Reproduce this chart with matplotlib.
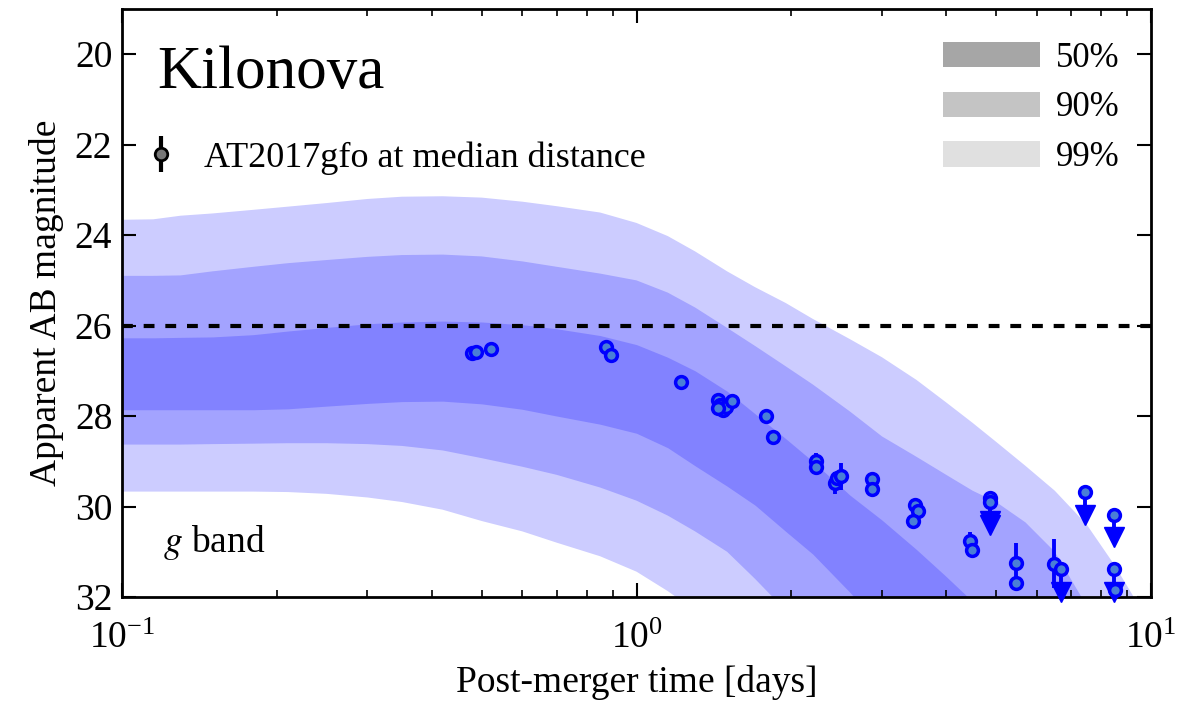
import numpy as np
import matplotlib
matplotlib.use("Agg")
import matplotlib.pyplot as plt
from matplotlib.patches import Patch

plt.rcParams['font.family'] = ['Liberation Serif', 'DejaVu Serif']
plt.rcParams['mathtext.fontset'] = 'stix'

# ---- band data (apparent AB magnitude credible intervals) ----
t_grid = [0.1, 0.115, 0.13, 0.15, 0.18, 0.21, 0.25, 0.3, 0.35, 0.42, 0.5, 0.6, 0.7, 0.85,
          1.0, 1.15, 1.3, 1.5, 1.7, 1.95, 2.2, 2.6, 3.0, 3.5, 4.0, 4.5, 5.0, 5.7, 6.5,
          7.5, 8.5, 9.2, 10.0]
u99 = [23.66, 23.65, 23.57, 23.52, 23.44, 23.37, 23.29, 23.2, 23.15, 23.14, 23.17, 23.26, 23.36, 23.5,
       23.73, 24.02, 24.36, 24.8, 25.15, 25.5, 25.85, 26.3, 26.7, 27.2, 27.7, 28.15, 28.57, 29.1, 29.65,
       30.4, 31.3, 31.95, 32.8]
u90 = [24.9, 24.9, 24.89, 24.8, 24.7, 24.62, 24.55, 24.48, 24.44, 24.43, 24.47, 24.58, 24.7, 24.85,
       25.0, 25.27, 25.6, 26.05, 26.45, 26.9, 27.3, 27.9, 28.45, 28.9, 29.3, 29.65, 29.9, 30.35, 31.0,
       32.2, 33.5, 34.2, 35.0]
u50 = [26.27, 26.27, 26.26, 26.25, 26.2, 26.12, 26.04, 25.96, 25.92, 25.9, 25.92, 25.98, 26.07, 26.22,
       26.42, 26.7, 27.0, 27.45, 27.95, 28.5, 29.0, 29.75, 30.3, 30.95, 31.55, 32.1, 32.6, 33.3, 34.0,
       35.0, 36.0, 36.5, 37.0]
l50 = [27.86, 27.86, 27.86, 27.86, 27.86, 27.84, 27.78, 27.72, 27.68, 27.67, 27.73, 27.85, 28.0, 28.18,
       28.38, 28.7, 29.1, 29.55, 29.97, 30.55, 31.05, 31.9, 32.7, 33.5, 34.2, 34.8, 35.3, 36.0, 36.6,
       37.2, 37.8, 38.2, 38.6]
l90 = [28.63, 28.63, 28.63, 28.62, 28.61, 28.6, 28.6, 28.62, 28.66, 28.76, 28.93, 29.12, 29.3, 29.58,
       29.87, 30.2, 30.55, 31.0, 31.6, 32.3, 33.0, 33.8, 34.5, 35.2, 35.8, 36.3, 36.8, 37.4, 38.0,
       38.6, 39.2, 39.6, 40.0]
l99 = [29.67, 29.67, 29.67, 29.67, 29.67, 29.68, 29.72, 29.8, 29.9, 30.07, 30.32, 30.55, 30.8, 31.1,
       31.44, 31.87, 32.3, 32.9, 33.5, 34.1, 34.7, 35.4, 36.0, 36.6, 37.2, 37.7, 38.2, 38.8, 39.4,
       40.0, 40.6, 41.0, 41.4]

# ---- AT2017gfo g-band detections ----
det_t = [0.478, 0.487, 0.522, 0.874, 0.894, 1.218, 1.443, 1.453, 1.47, 1.49, 1.53, 1.44,
         1.785, 1.84, 2.233, 2.233, 2.43, 2.45, 2.494, 2.866, 2.866, 3.48, 3.52, 3.44,
         4.45, 4.49, 5.47, 5.47, 6.47, 8.5]
det_mag = [26.60, 26.58, 26.52, 26.47, 26.66, 27.24, 27.64, 27.75, 27.86, 27.80, 27.67, 27.83,
           28.0, 28.47, 29.0, 29.12, 29.48, 29.37, 29.33, 29.39, 29.62, 29.96, 30.09, 30.33,
           30.77, 30.97, 31.25, 31.69, 31.26, 31.84]
det_err = [0.03, 0.03, 0.03, 0.03, 0.03, 0.03, 0.03, 0.03, 0.03, 0.03, 0.03, 0.03,
           0.03, 0.1, 0.18, 0.1, 0.25, 0.1, 0.3, 0.05, 0.05, 0.05, 0.05, 0.08,
           0.2, 0.05, 0.45, 0.05, 0.55, 0.05]

# ---- upper limits ----
ul_t = [4.87, 4.87, 6.67, 7.45, 8.46, 8.46]
ul_mag = [29.82, 29.9, 31.38, 29.68, 30.18, 31.38]

threshold_mag = 26.0
band_labels = ['50%', '90%', '99%']
legend_greys = ['#a6a6a6', '#c4c4c4', '#e0e0e0']

fig = plt.figure(figsize=(12.03, 7.03), dpi=100)
ax = fig.add_axes([0.1014, 0.1508, 0.8554, 0.8364])

for lo, hi in [(u99, l99), (u90, l90), (u50, l50)]:
    ax.fill_between(t_grid, lo, hi, color='blue', alpha=0.2, lw=0)

ax.axhline(threshold_mag, color='black', lw=3, ls=(0, (2.6, 2.6)), zorder=3)

blue = '#0000ff'
face = '#4a7fd6'
ax.errorbar(det_t, det_mag, yerr=det_err, fmt='o', ms=8.5, mfc=face, mec=blue, mew=2.5,
            ecolor=blue, elinewidth=2.8, capsize=0, zorder=5)

arrow_len = 0.5
for t, m in zip(ul_t, ul_mag):
    ax.plot([t, t], [m, m + arrow_len], color=blue, lw=2.8, zorder=5)
    ax.plot([t], [m + arrow_len], marker='v', ms=15, color=blue, mec=blue, zorder=5, clip_on=False)
ax.plot(ul_t, ul_mag, 'o', ms=8.5, mfc=face, mec=blue, mew=2.5, ls='none', zorder=6)

ax.set_xscale('log')
ax.set_xlim(0.1, 10)
ax.set_ylim(32, 19)
ax.set_yticks([20, 22, 24, 26, 28, 30, 32])

ax.tick_params(which='both', direction='in', top=True, right=True, labelsize=27)
ax.tick_params(which='major', length=10, width=1.5, pad=7)
ax.tick_params(which='minor', length=5, width=1.2)
ax.tick_params(axis='x', which='major', pad=18)
for s in ax.spines.values():
    s.set_linewidth(2)

ax.set_xlabel('Post-merger time [days]', fontsize=27, labelpad=6)
ax.set_ylabel('Apparent AB magnitude', fontsize=27, labelpad=8)

ax.text(0.034, 0.866, 'Kilonova', transform=ax.transAxes, fontsize=44, va='baseline', ha='left')
ax.text(0.040, 0.077, '$g$ band', transform=ax.transAxes, fontsize=27, va='baseline', ha='left')

# data legend
h = ax.errorbar([np.nan], [np.nan], yerr=[1], fmt='o', ms=9, mfc='#777777', mec='black', mew=2,
                ecolor='black', elinewidth=3, capsize=0)
leg1 = ax.legend([h], ['AT2017gfo at median distance'], loc='upper left', bbox_to_anchor=(0.01, 0.80),
                 frameon=False, fontsize=26, handlelength=0.8, handletextpad=0.8, borderaxespad=0)
ax.add_artist(leg1)

# band legend
patches = [Patch(facecolor=c, edgecolor='none') for c in legend_greys]
ax.legend(patches, band_labels, loc='upper right', bbox_to_anchor=(0.983, 0.968), frameon=False,
          fontsize=25, handlelength=2.8, handleheight=0.75, handletextpad=0.45, labelspacing=0.48,
          borderaxespad=0)

fig.savefig('out.png', dpi=100)
